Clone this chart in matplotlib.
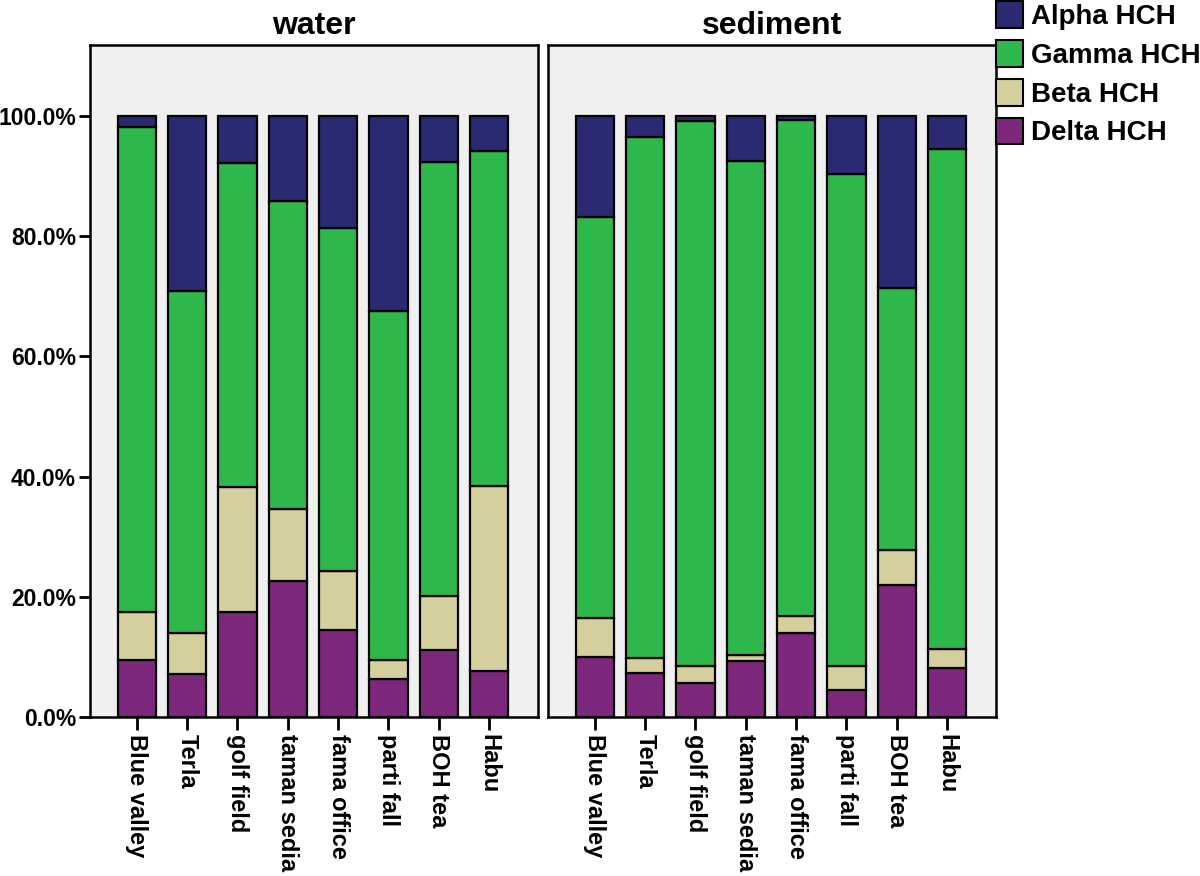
import matplotlib
matplotlib.use("Agg")
import matplotlib.pyplot as plt
from matplotlib.patches import Patch
import numpy as np

plt.rcParams['font.family'] = ['Liberation Sans', 'DejaVu Sans']
plt.rcParams['font.weight'] = 'bold'

sites = ["Blue valley", "Terla", "golf field", "taman sedia", "fama office",
         "parti fall", "BOH tea", "Habu"]
panels = ["water", "sediment"]
series = ["Alpha HCH", "Gamma HCH", "Beta HCH", "Delta HCH"]

# percentages (stack order bottom->top: Delta, Beta, Gamma, Alpha)
water_delta = [9.5, 7.2, 17.5, 22.6, 14.5, 6.3, 11.1, 7.6]
water_beta = [8.0, 6.8, 20.8, 12.0, 9.8, 3.2, 9.0, 30.8]
water_gamma = [80.7, 56.9, 53.9, 51.3, 57.1, 58.1, 72.2, 55.8]
water_alpha = [1.8, 29.1, 7.8, 14.1, 18.6, 32.4, 7.7, 5.8]

sed_delta = [10.0, 7.3, 5.7, 9.3, 14.0, 4.5, 22.0, 8.2]
sed_beta = [6.5, 2.5, 2.8, 1.0, 2.8, 4.0, 5.8, 3.1]
sed_gamma = [66.7, 86.7, 90.7, 82.2, 82.5, 81.8, 43.6, 83.2]
sed_alpha = [16.8, 3.5, 0.8, 7.5, 0.7, 9.7, 28.6, 5.5]

colors = {"Alpha HCH": "#2a2a72", "Gamma HCH": "#2eb84b",
          "Beta HCH": "#d4cf9c", "Delta HCH": "#7d287d"}

data = {
    "water": {"Delta HCH": water_delta, "Beta HCH": water_beta,
              "Gamma HCH": water_gamma, "Alpha HCH": water_alpha},
    "sediment": {"Delta HCH": sed_delta, "Beta HCH": sed_beta,
                 "Gamma HCH": sed_gamma, "Alpha HCH": sed_alpha},
}

fig = plt.figure(figsize=(12, 8.76), dpi=100)
W, H = 1200, 876
lefts = [90, 548]
pw = 448
ytop, ybot = 45, 717

x = np.arange(len(sites))
for i, p in enumerate(panels):
    ax = fig.add_axes([lefts[i] / W, 1 - ybot / H, pw / W, (ybot - ytop) / H])
    ax.set_facecolor("#f0f0f0")
    bottom = np.zeros(len(sites))
    for s in ["Delta HCH", "Beta HCH", "Gamma HCH", "Alpha HCH"]:
        vals = np.array(data[p][s])
        ax.bar(x, vals, bottom=bottom, width=0.76, color=colors[s],
               edgecolor="black", linewidth=1.6, zorder=3)
        bottom += vals
    ax.set_xlim(-0.93, 7.97)
    ax.set_ylim(0, 111.8)
    ax.set_xticks(x)
    ax.set_xticklabels(sites, rotation=-90, fontsize=17, fontweight='bold')
    if i == 0:
        ax.set_yticks([0, 20, 40, 60, 80, 100])
        ax.set_yticklabels(["0.0%", "20.0%", "40.0%", "60.0%", "80.0%", "100.0%"],
                           fontsize=16.5, fontweight='bold')
        ax.tick_params(axis='y', length=8, width=2, direction='out', pad=2)
    else:
        ax.set_yticks([])
    ax.tick_params(axis='x', length=9, width=2, direction='out', pad=3)
    for sp in ax.spines.values():
        sp.set_linewidth(1.8)
        sp.set_color("black")
    ax.set_title(p, fontsize=23, fontweight='bold', pad=8)

handles = [Patch(facecolor=colors[s], edgecolor="black", linewidth=1.5) for s in series]
fig.legend(handles, series, loc="upper left", bbox_to_anchor=(0.829, 1.0),
           frameon=False, prop={'weight': 'bold', 'size': 20},
           handlelength=0.95, handleheight=1.1, handletextpad=0.3, labelspacing=0.36,
           borderaxespad=0, borderpad=0.05)

fig.savefig("out.png", dpi=100)
